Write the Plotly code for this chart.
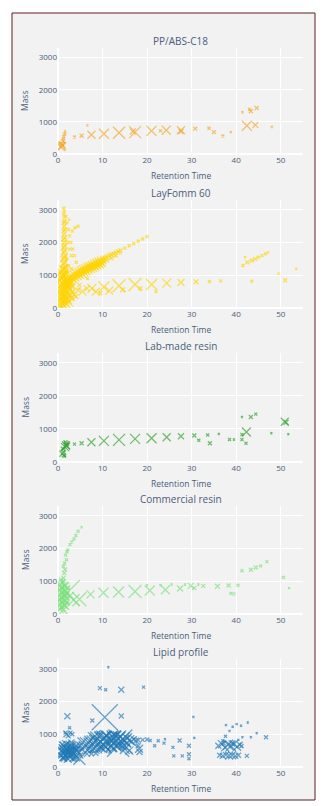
import plotly.graph_objects as go

# ---------------- data ----------------
titles = ["PP/ABS-C18", "LayFomm 60", "Lab-made resin", "Commercial resin", "Lipid profile"]
colors = ["#f5a524", "#ffd400", "#2ca02c", "#7be07b", "#1f77b4"]
x_ticks = [0, 10, 20, 30, 40, 50]
y_ticks = [0, 1000, 2000, 3000]

# Panel 1: PP/ABS-C18
rt1 = [0.7, 0.9, 1.0, 0.8, 1.1, 1.2, 1.3, 1.5, 1.6, 3.7, 5.3, 6.6, 7.5, 10.3, 13.7, 16.8, 17.3,
       21.0, 23.0, 24.3, 27.6, 27.6, 30.8, 33.9, 35.0, 37.0, 38.8, 41.4, 42.4, 43.0, 43.3, 44.3,
       44.6, 48.0]
mass1 = [220, 250, 280, 320, 400, 470, 540, 620, 700, 530, 570, 890, 600, 630, 660, 700, 680,
         720, 720, 740, 740, 700, 790, 800, 680, 560, 680, 1300, 880, 1390, 1330, 900,
         1430, 840]
size1 = [8, 8, 6, 5, 4, 3, 3, 3, 2, 3, 4, 2, 8, 10, 12, 6, 12,
         10, 3, 9, 8, 5, 4, 3, 4, 3, 2, 2, 10, 3, 4, 6,
         4, 2]

# Panel 2: LayFomm 60
rt2 = [0.3, 0.6, 0.9, 1.2, 1.5, 1.8, 2.1, 2.4, 0.4, 0.7, 1.0, 1.3, 1.6, 1.9, 2.2, 2.6,
       0.3, 0.6, 0.9, 1.2, 1.5, 1.8, 2.1, 2.5, 0.5, 0.8, 1.1, 1.4, 1.7, 2.0, 2.3, 2.7,
       0.4, 0.8, 1.0, 1.4, 3.0, 3.3, 3.6, 4.0, 4.5, 3.2,
       1.3, 1.5, 1.2, 1.4, 1.6, 1.3, 1.5, 1.2, 1.4, 1.6, 1.3, 1.5, 1.3, 1.5, 1.4, 1.3, 1.5,
       1.4, 1.3, 1.5, 1.4, 1.3, 1.5, 1.4, 1.3, 1.4, 1.3, 0.9, 0.7, 1.9, 1.0, 1.8,
       1.8, 2.0, 2.3, 2.6, 2.9, 3.3, 3.7, 4.1, 2.2, 2.6, 3.0, 2.5, 3.2, 3.8, 4.5, 2.0, 2.4, 3.0,
       2.0, 2.5, 3.0, 3.5, 4.0, 4.5, 5.0, 5.5, 6.0, 6.5, 7.0, 7.5, 8.0, 8.5, 9.0, 9.5, 10.0,
       2.2, 2.7, 3.2, 3.7, 4.2, 4.7, 5.2, 5.7, 6.2, 6.7, 7.2, 7.7, 8.2, 8.7, 9.2, 9.7, 10.2,
       2.0, 2.5, 3.0, 3.5, 4.0, 4.5, 5.0, 5.5, 6.0, 6.5, 7.0, 7.5, 8.0, 8.5, 9.0, 9.5, 10.0,
       10.5, 11.0, 11.5, 12.0, 12.5, 13.0, 13.5, 14.0, 15.0, 16.0, 17.0, 18.0, 19.0, 20.0,
       11.0, 12.0, 13.0, 14.0,
       5.5, 6.5, 7.6, 8.5, 10.3, 11.5, 13.7, 14.5, 17.3, 18.5, 21.0, 22.0, 24.4, 27.6, 31.0,
       34.0, 36.5, 43.5, 49.5, 51.0, 53.5, 6.6, 4.8, 9.5,
       41.5, 42.5, 43.5, 44.3, 45.0, 45.8, 46.6, 47.2, 42.0]
mass2 = [100, 50, 150, 80, 200, 120, 250, 180, 300, 250, 350, 280, 400, 330, 450, 380,
         500, 450, 550, 480, 600, 530, 650, 580, 700, 650, 750, 680, 800, 720, 850, 760,
         850, 900, 950, 880, 300, 500, 400, 350, 550, 650,
         1000, 1050, 1150, 1200, 1250, 1350, 1400, 1500, 1550, 1600, 1700, 1750, 1850, 1900,
         2000, 2100, 2150, 2250, 2350, 2400, 2500, 2600, 2650, 2750, 2850, 2950, 3050,
         1000, 1100, 1050, 1200, 1150,
         2800, 2600, 2400, 2200, 2000, 1800, 1600, 1400, 2000, 1800, 1600, 2700, 2350, 2450,
         2500, 1500, 1300, 1200,
         850, 920, 980, 1030, 1080, 1120, 1160, 1200, 1230, 1270, 1300, 1330, 1360, 1400,
         1430, 1460, 1500,
         780, 850, 900, 950, 1000, 1040, 1080, 1120, 1160, 1190, 1230, 1260, 1290, 1330,
         1360, 1390, 1430,
         700, 760, 820, 870, 920, 960, 1000, 1040, 1080, 1110, 1150, 1180, 1210, 1250, 1280,
         1310, 1350,
         1530, 1560, 1600, 1630, 1660, 1700, 1730, 1760, 1830, 1900, 1970, 2040, 2110, 2180,
         1450, 1520, 1600, 1680,
         500, 600, 600, 500, 640, 530, 680, 560, 720, 600, 720, 500, 760, 780, 800,
         810, 830, 820, 1050, 850, 1200, 900, 700, 450,
         1300, 1400, 1450, 1500, 1550, 1600, 1660, 1700, 1550]
size2 = [9, 9, 9, 9, 9, 9, 9, 9, 9, 9, 9, 9, 9, 9, 9, 9,
         9, 9, 9, 9, 9, 9, 9, 9, 9, 9, 9, 9, 9, 9, 9, 9,
         8, 8, 8, 8, 6, 6, 6, 5, 5, 6,
         7, 7, 7, 7, 6, 6, 6, 6, 6, 5, 5, 5, 5, 5, 5, 5, 5,
         4, 4, 4, 4, 4, 4, 3, 3, 3, 3, 7, 7, 6, 7, 6,
         3, 3, 3, 3, 3, 3, 3, 3, 3, 3, 3, 2, 3, 3, 3, 3, 3, 3,
         7, 7, 7, 7, 7, 7, 7, 7, 7, 7, 7, 7, 7, 7, 7, 7, 6,
         7, 7, 7, 7, 7, 7, 7, 7, 7, 7, 7, 7, 7, 7, 7, 7, 6,
         7, 7, 7, 7, 7, 7, 7, 7, 7, 7, 7, 7, 7, 7, 7, 7, 6,
         5, 5, 5, 5, 4, 4, 4, 4, 3, 3, 3, 3, 3, 3,
         4, 4, 4, 3,
         8, 6, 9, 8, 11, 8, 13, 5, 13, 4, 11, 3, 9, 7, 5,
         3, 3, 3, 2, 4, 2, 3, 4, 4,
         3, 4, 4, 4, 3, 3, 3, 2, 2]

# Panel 3: Lab-made resin
rt3 = [1.0, 1.2, 1.1, 1.3, 1.5, 1.6, 1.8, 1.9, 1.7, 2.0, 3.7, 5.3, 7.5, 10.3, 13.7, 17.3, 21.0,
       24.4, 27.6, 30.6, 31.6, 33.6, 34.1, 36.1, 38.5, 39.5, 41.3, 41.3, 41.3, 42.3, 42.2,
       43.3, 44.4, 47.9, 50.9, 51.2, 51.7]
mass3 = [250, 300, 400, 200, 180, 450, 500, 550, 600, 480, 540, 570, 600, 640, 670, 700, 720,
         750, 780, 800, 660, 820, 570, 850, 680, 680, 680, 830, 1360, 910, 570,
         1360, 1450, 870, 1220, 1200, 840]
size3 = [6, 5, 4, 4, 3, 8, 8, 5, 4, 6, 3, 4, 8, 10, 12, 10, 10,
         8, 6, 4, 3, 3, 4, 2, 3, 2, 3, 3, 2, 9, 3,
         4, 3, 2, 8, 5, 2]

# Panel 4: Commercial resin
rt4 = [0.4, 0.8, 1.2, 1.6, 0.5, 0.9, 1.3, 1.7, 0.4, 0.8, 1.2, 1.6, 0.5, 0.9, 1.3, 1.7,
       0.4, 0.8, 1.2, 1.6, 0.6, 1.0, 1.4, 1.9, 2.0, 2.2, 1.1, 0.7, 2.0,
       1.2, 1.4, 1.2, 1.6, 1.5, 1.9, 1.7, 2.2, 2.0, 2.7, 3.1, 3.6, 4.0, 4.5, 5.3,
       2.7, 3.5, 4.8, 7.3, 10.2, 13.6, 17.3, 20.6, 24.1, 27.4, 29.8, 30.6, 32.6, 35.8, 38.3,
       38.8, 39.5, 40.4, 41.3, 43.3, 44.4, 45.5, 46.9, 50.6, 51.9, 25.5, 28.5, 31.5, 23.0, 20.0]
mass4 = [150, 200, 120, 250, 300, 350, 280, 400, 450, 500, 430, 550, 600, 650, 580, 700,
         750, 800, 730, 850, 900, 950, 880, 600, 350, 800, 1000, 1050, 640,
         1100, 1250, 1460, 1360, 1550, 1660, 1800, 1960, 1900, 2120, 2200, 2290, 2400, 2530, 2650,
         560, 430, 450, 600, 650, 670, 690, 720, 740, 780, 860, 790, 860, 850, 870,
         630, 610, 880, 1320, 1350, 1420, 1470, 1600, 1120, 790, 900, 900, 900, 880, 880]
size4 = [8, 8, 8, 8, 8, 8, 8, 8, 8, 8, 8, 8, 8, 8, 8, 8,
         8, 8, 8, 8, 7, 7, 7, 6, 6, 5, 4, 4, 26,
         4, 4, 3, 4, 3, 3, 3, 3, 3, 3, 3, 3, 3, 3, 2,
         8, 12, 14, 8, 10, 11, 13, 10, 9, 6, 6, 4, 4, 5, 4,
         3, 3, 3, 3, 4, 4, 3, 3, 3, 2, 2, 2, 2, 2, 2]

# Panel 5: Lipid profile
rt5 = [1.0, 1.5, 2.0, 2.5, 3.0, 3.5, 4.0, 4.5, 1.2, 1.8, 2.8, 3.8, 0.8, 1.3, 2.2, 3.3, 5.0, 5.3,
       0.7, 2.6, 1.6, 3.2, 4.2, 2.0, 2.4, 4.8, 1.0, 3.0,
       1.4, 1.9, 2.3, 2.7, 3.1, 3.6, 4.1, 0.9, 1.6, 2.9,
       1.9, 2.3, 2.8, 3.2, 2.6, 2.1, 1.7,
       5.0, 5.5, 6.0, 6.5, 7.0, 7.0, 7.5, 8.0, 8.0, 8.5, 8.5, 9.0, 9.0, 9.5, 9.5, 10.0, 10.0,
       10.5, 10.5, 11.0, 11.0, 11.5, 11.5, 12.0, 12.0, 12.5, 12.5, 13.0, 13.0, 13.5, 13.5,
       14.0, 14.0, 14.5, 14.5, 15.0, 15.5, 15.5, 16.0, 16.5, 17.0, 17.5, 18.0, 19.0, 20.0,
       6.5, 7.5, 8.5, 16.0, 15.0, 13.0, 9.0, 13.5,
       10.5, 11.3, 9.4, 10.7, 14.2, 19.2, 7.7, 14.2, 30.4,
       18.2, 18.3, 18.0, 20.7, 21.7, 23.8, 25.8, 27.3, 29.4, 26.0, 27.9, 29.4, 29.4, 30.6, 22.5, 24.0,
       36.0, 36.8, 37.5, 38.2, 38.8, 39.5, 40.2, 40.8, 37.2, 39.0, 41.2,
       36.3, 37.0, 37.7, 38.4, 39.1, 39.8, 40.5, 42.4,
       37.7, 39.2, 40.1, 41.1, 42.6, 37.6, 38.5, 40.5, 41.4, 43.3, 44.6, 46.7, 37.0]
mass5 = [450, 600, 400, 550, 350, 500, 300, 450, 300, 700, 650, 600, 600, 250, 250, 250, 350, 550,
         350, 450, 500, 450, 520, 700, 350, 250, 700, 750,
         420, 560, 480, 380, 620, 400, 650, 500, 350, 520,
         1000, 950, 1050, 1000, 1200, 1550, 1050,
         650, 750, 600, 700, 800, 550, 650, 750, 900, 600, 820, 700, 950, 780, 600, 850, 700,
         650, 900, 780, 950, 700, 850, 800, 600, 900, 720, 800, 950, 700, 870,
         780, 920, 850, 650, 800, 880, 720, 820, 780, 850, 800, 820, 830, 840,
         400, 400, 420, 500, 550, 1000, 1050, 650,
         1520, 3050, 2410, 2360, 2360, 2440, 1420, 1560, 1530,
         560, 460, 650, 810, 650, 730, 600, 810, 650, 340, 340, 390, 250, 890, 800, 850,
         650, 700, 600, 680, 640, 700, 620, 680, 720, 720, 640,
         360, 340, 370, 350, 360, 340, 360, 340,
         1280, 1230, 1310, 1260, 1360, 940, 1100, 830, 910, 910, 1030, 910, 800]
size5 = [10, 12, 14, 10, 12, 10, 8, 8, 8, 8, 10, 8, 6, 6, 8, 6, 6, 5,
         6, 14, 12, 10, 8, 6, 10, 12, 5, 6,
         9, 9, 9, 9, 9, 9, 8, 8, 8, 9,
         6, 5, 4, 4, 3, 6, 4,
         8, 10, 12, 14, 10, 8, 16, 14, 8, 12, 16, 18, 8, 20, 10, 16, 18,
         12, 12, 20, 10, 16, 18, 20, 10, 14, 16, 18, 10, 12, 16,
         24, 10, 14, 8, 12, 10, 8, 10, 8, 6, 6, 5, 4, 4,
         6, 5, 5, 8, 10, 6, 4, 22,
         26, 2, 4, 3, 6, 3, 4, 5, 2,
         8, 6, 5, 3, 3, 3, 3, 4, 4, 3, 3, 4, 3, 2, 3, 2,
         6, 8, 8, 10, 10, 8, 8, 6, 4, 6, 4,
         5, 6, 6, 8, 8, 6, 5, 4,
         2, 2, 2, 2, 2, 3, 2, 2, 2, 2, 2, 4, 3]

panels = [(rt1, mass1, size1), (rt2, mass2, size2), (rt3, mass3, size3),
          (rt4, mass4, size4), (rt5, mass5, size5)]

# ---------------- layout geometry ----------------
W, H = 327, 806
ML, MR, MT, MB = 58, 24, 48, 39
PW = W - ML - MR
PH = H - MT - MB
tops_px = [48, 200, 353, 506, 659]
bots_px = [154, 308, 462, 614, 767]


def py(p):
    return (H - MB - p) / PH


def px(p):
    return (p - ML) / PW


BG = "#f2f2f2"
TXT = "#4b5d7a"

fig = go.Figure()
annotations = []
layout_axes = {}
for i, (rt, ms, sz) in enumerate(panels):
    n = i + 1
    xa = "x" if n == 1 else f"x{n}"
    ya = "y" if n == 1 else f"y{n}"
    fig.add_trace(go.Scatter(
        x=rt, y=ms, mode="markers", xaxis=xa, yaxis=ya, showlegend=False,
        marker=dict(symbol="x-thin", size=sz, color=colors[i], opacity=0.65,
                    line=dict(width=1.3, color=colors[i])),
    ))
    d0, d1 = py(bots_px[i]), py(tops_px[i])
    axkey = "xaxis" if n == 1 else f"xaxis{n}"
    aykey = "yaxis" if n == 1 else f"yaxis{n}"
    layout_axes[axkey] = dict(domain=[0, 1], anchor=ya, range=[0, 55], tickvals=x_ticks,
                              showgrid=True, gridcolor="white", gridwidth=1,
                              zeroline=True, zerolinecolor="white", zerolinewidth=1.5,
                              tickfont=dict(size=8, color=TXT), ticks="", showline=False)
    layout_axes[aykey] = dict(domain=[d0, d1], anchor=xa, range=[0, 3300], tickvals=y_ticks,
                              showgrid=True, gridcolor="white", gridwidth=1,
                              zeroline=True, zerolinecolor="white", zerolinewidth=1.5,
                              tickfont=dict(size=8, color=TXT), ticks="", showline=False)
    annotations.append(dict(text=titles[i], xref="paper", yref="paper", x=0.5, y=d1,
                            xanchor="center", yanchor="middle", yshift=7, showarrow=False,
                            font=dict(size=10, color=TXT)))
    annotations.append(dict(text="Retention Time", xref="paper", yref="paper", x=0.5, y=d0,
                            xanchor="center", yanchor="middle", yshift=-21, showarrow=False,
                            font=dict(size=8.5, color=TXT)))
    annotations.append(dict(text="Mass", xref="paper", yref="paper", x=px(25), y=(d0 + d1) / 2,
                            xanchor="center", yanchor="middle", textangle=-90, showarrow=False,
                            font=dict(size=8.5, color=TXT)))

fig.update_layout(
    width=W, height=H, autosize=False,
    margin=dict(l=ML, r=MR, t=MT, b=MB, pad=0),
    paper_bgcolor="white", plot_bgcolor=BG,
    font=dict(family="Open Sans, Verdana, Arial", color=TXT),
    annotations=annotations,
    shapes=[dict(type="rect", xref="paper", yref="paper", layer="below",
                 x0=px(12), x1=px(315), y0=py(800), y1=py(13),
                 fillcolor=BG, line=dict(color="#5a1f24", width=1))],
    **layout_axes,
)

fig.write_html("out.html")
